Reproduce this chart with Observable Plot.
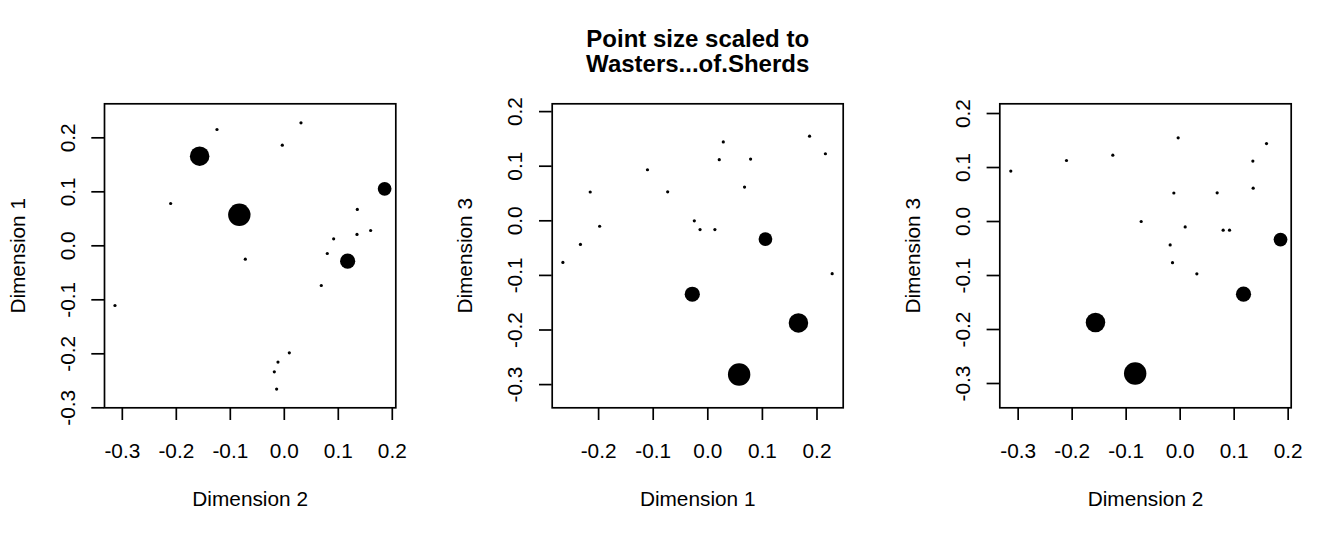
<!DOCTYPE html>
<html><head><meta charset="utf-8">
<script src="https://cdn.jsdelivr.net/npm/d3@7"></script>
<script src="https://cdn.jsdelivr.net/npm/@observablehq/plot@0.6"></script>
<style>
body{margin:0;background:#fff;}
#wrap{position:relative;width:1344px;height:537px;overflow:hidden;background:#fff;}
#wrap svg{position:absolute;top:0;}
</style></head><body><div id="wrap"></div>
<script>
// MDS coordinates of the 20 sites
const dim1 = [0.2154, 0.2278, 0.1864, 0.1660, 0.0784, 0.0574, 0.1056, 0.0673, 0.0284, 0.0210,
              0.0130, -0.0142, -0.0284, -0.0247, -0.0735, -0.1105, -0.1981, -0.2154, -0.2333, -0.2654];
const dim2 = [-0.1247, 0.0309, -0.0037, -0.1568, -0.2105, -0.0833, 0.1858, 0.1352, 0.1599, 0.1346,
              0.0914, 0.0796, 0.1173, -0.0722, 0.0685, -0.3136, 0.0093, -0.0117, -0.0185, -0.0142];
const dim3 = [0.1228, -0.0969, 0.1550, -0.1870, 0.1130, -0.2815, -0.0335, 0.0617, 0.1444, 0.1120,
              -0.0160, -0.0160, -0.1345, 0.0000, 0.0531, 0.0935, -0.0100, 0.0528, -0.0433, -0.0762];
// Wasters (% of sherds), estimated from the point sizes
const wasters = [0, 0, 0, 34, 0, 40, 22, 0, 0, 0, 0, 0, 25, 0, 0, 0, 0, 0, 0, 0];

const ticksWide = [-0.3, -0.2, -0.1, 0.0, 0.1, 0.2];
const ticksNarrow = [-0.2, -0.1, 0.0, 0.1, 0.2];
const titleLines = ["Point size scaled to", "Wasters...of.Sherds"];
const axisNames = ["Dimension 1", "Dimension 2", "Dimension 3"];

const rows = dim1.map((d, i) => ({d1: d, d2: dim2[i], d3: dim3[i], w: wasters[i]}));
const fmt = v => v.toFixed(1);
const FONT = '"Liberation Sans", Arial, Helvetica, sans-serif';
const LW = 1.7, TICK = 12.7, FS = 20.8;

function panel({left, ml, mr, xk, yk, xdom, ydom, xt, yt, xlab, ylab, title}) {
  const marks = [
    Plot.dot(rows, {x: xk, y: yk, r: "w", fill: "black", stroke: "none"}),
    Plot.frame({stroke: "black", strokeWidth: LW}),
    Plot.axisX({ticks: xt, anchor: "bottom", tickSize: TICK, tickPadding: 22.8, tickFormat: fmt,
                fontSize: FS, strokeWidth: LW, label: null}),
    Plot.axisY({ticks: yt, anchor: "left", tickSize: TICK, tickPadding: 17.3, tickRotate: -90, tickFormat: fmt,
                fontSize: FS, strokeWidth: LW, label: null}),
    Plot.text([xlab], {text: d => d, frameAnchor: "bottom", dy: 98, lineAnchor: "bottom", fontSize: FS}),
    Plot.text([ylab], {text: d => d, frameAnchor: "left", dx: -80, rotate: -90, textAnchor: "middle",
                       lineAnchor: "bottom", fontSize: FS})
  ];
  if (title) {
    marks.push(Plot.text([title.join("\n")], {text: d => d, frameAnchor: "top", dy: -31.6, lineAnchor: "bottom",
      lineHeight: 25 / 24, fontSize: 24, fontWeight: "bold"}));
  }
  const svg = Plot.plot({
    width: 448, height: 537,
    marginLeft: ml, marginRight: mr, marginTop: 103.3, marginBottom: 129.7,
    x: {domain: xdom},
    y: {domain: ydom},
    r: {type: "linear", domain: [0, 40], range: [1.6, 11.2]},
    style: {fontFamily: FONT, fontSize: FS + "px", color: "black", background: "white", overflow: "visible"},
    marks
  });
  svg.style.left = left + "px";
  document.getElementById("wrap").appendChild(svg);
}

panel({left: 0, ml: 104, mr: 52.7, xk: "d2", yk: "d1", xdom: [-0.333, 0.2065], ydom: [-0.300, 0.263],
       xt: ticksWide, yt: ticksWide, xlab: axisNames[1], ylab: axisNames[0]});
panel({left: 448, ml: 103.7, mr: 53.3, xk: "d1", yk: "d3", xdom: [-0.285, 0.248], ydom: [-0.3425, 0.2143],
       xt: ticksNarrow, yt: ticksWide, xlab: axisNames[0], ylab: axisNames[2], title: titleLines});
panel({left: 896, ml: 103.3, mr: 53.3, xk: "d2", yk: "d3", xdom: [-0.334, 0.2056], ydom: [-0.345, 0.218],
       xt: ticksWide, yt: ticksWide, xlab: axisNames[1], ylab: axisNames[2]});
</script></body></html>
